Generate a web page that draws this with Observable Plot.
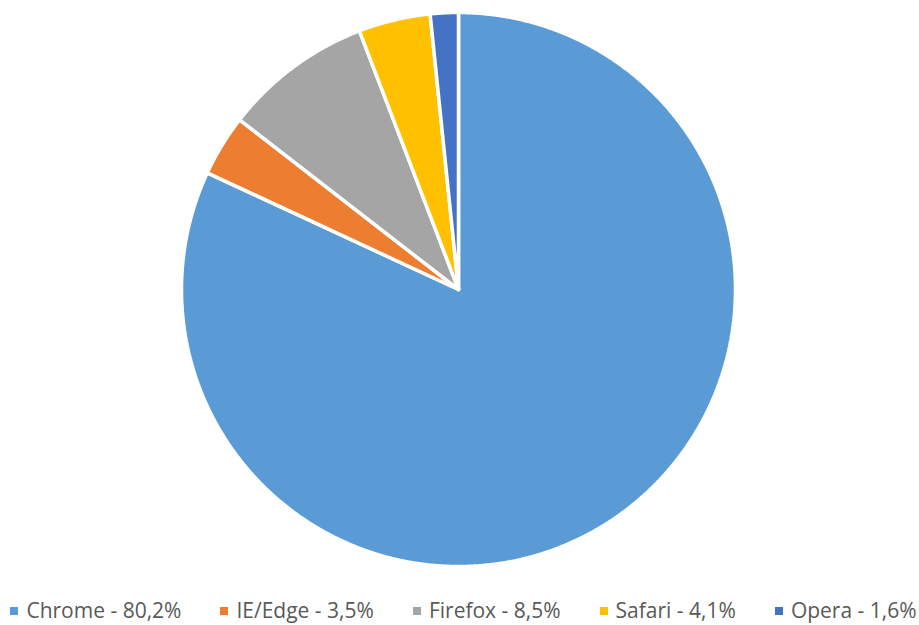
<!DOCTYPE html>
<html>
<head>
<meta charset="utf-8">
<script src="https://cdn.jsdelivr.net/npm/d3@7"></script>
<script src="https://cdn.jsdelivr.net/npm/@observablehq/plot@0.6"></script>
<style>
  html, body { margin: 0; padding: 0; background: #fff; }
  #wrap { position: relative; width: 919px; height: 625px; overflow: hidden; }
  #legend {
    position: absolute; left: 0; top: 599px; width: 919px;
    display: flex; justify-content: center; gap: 39px;
    font-family: "Open Sans", sans-serif; font-size: 21px; line-height: 22px;
    color: #595959; white-space: nowrap; padding-left: 8px; box-sizing: border-box;
  }
  .item { display: flex; align-items: center; }
  .sw { width: 8px; height: 8px; margin-right: 8px; margin-top: 2px; }
</style>
</head>
<body>
<div id="wrap"><div id="chart"></div><div id="legend"></div></div>
<script>
const browsers = ["Chrome", "IE/Edge", "Firefox", "Safari", "Opera"];
const shares = [80.2, 3.5, 8.5, 4.1, 1.6];
const colors = ["#5B9BD5", "#ED7D31", "#A5A5A5", "#FFC000", "#4472C4"];

const labels = browsers.map((b, i) => `${b} - ${shares[i].toFixed(1).replace(".", ",")}%`);

// Build slice outlines from pie angles (clockwise from 12 o'clock)
const arcs = d3.pie().sort(null).value(d => d.share)(browsers.map((b, i) => ({browser: b, share: shares[i]})));
const rows = [];
const step = Math.PI / 720;
for (const a of arcs) {
  const b = a.data.browser;
  rows.push({browser: b, x: 0, y: 0});
  const n = Math.max(2, Math.ceil((a.endAngle - a.startAngle) / step));
  for (let k = 0; k <= n; k++) {
    const t = a.startAngle + (a.endAngle - a.startAngle) * k / n;
    rows.push({browser: b, x: Math.sin(t), y: Math.cos(t)});
  }
  rows.push({browser: b, x: 0, y: 0});
}

const plot = Plot.plot({
  width: 919,
  height: 596,
  marginLeft: 181,
  marginRight: 184,
  marginTop: 12,
  marginBottom: 30,
  x: {domain: [-1, 1], axis: null},
  y: {domain: [-1, 1], axis: null},
  color: {domain: browsers, range: colors},
  marks: [
    Plot.line(rows, {x: "x", y: "y", z: "browser", fill: "browser", stroke: "white", strokeWidth: 3.5, strokeLinejoin: "miter", curve: "linear"})
  ]
});
document.getElementById("chart").appendChild(plot);

const legend = document.getElementById("legend");
browsers.forEach((b, i) => {
  const it = document.createElement("div");
  it.className = "item";
  const sw = document.createElement("span");
  sw.className = "sw";
  sw.style.background = colors[i];
  const tx = document.createElement("span");
  tx.textContent = labels[i];
  it.appendChild(sw); it.appendChild(tx);
  legend.appendChild(it);
});
</script>
</body>
</html>
